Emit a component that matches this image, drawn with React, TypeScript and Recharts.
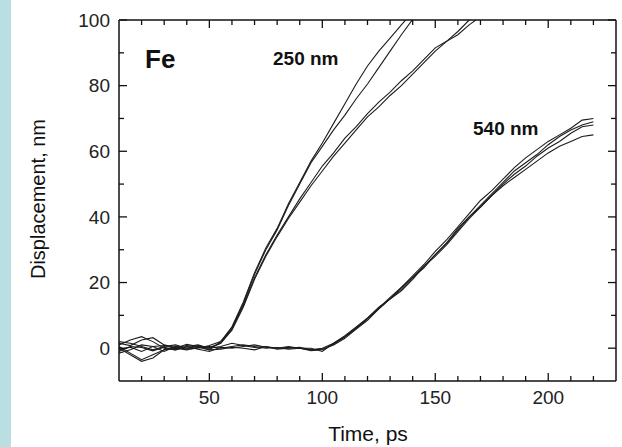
import { LineChart, Line, XAxis, YAxis } from "recharts";

// time axis (ps)
const TIME = [
  10, 15, 20, 25, 30, 35, 40, 45, 50, 55, 60, 65, 70, 75, 80, 85, 90, 95, 100, 105, 110,
  115, 120, 125, 130, 135, 140, 145, 150, 155, 160, 165, 170, 175, 180, 185, 190, 195,
  200, 205, 210, 215, 220,
];

// 250 nm film, displacement (nm); series stop once they leave the frame
const FE250_A1 = [
  1.5, 0.8, 2.5, 3.2, 1.0, 0.2, 0.8, 0.3, -0.5, 2.0, 6.5, 14, 23, 30.5, 36.5, 44, 50.5, 57,
  62.5, 68.5, 74.5, 80.5, 86, 90.5, 94.5, 98.5, 102.5,
];
const FE250_A2 = [
  -0.5, 0.3, -1.0, 0.5, 0.8, 0.0, 1.2, 0.5, 0.2, 1.5, 6, 13.5, 22.5, 30, 36, 43.5, 50,
  56.5, 61.5, 66.5, 71, 76, 80.5, 85.5, 90.5, 95.5, 100.2, 104,
];
const FE250_B1 = [
  0.5, -1.5, -3.5, -2.0, -0.5, 0.5, -0.3, 0.0, 0.8, 2.0, 6, 13, 21.5, 28.5, 34.5, 40,
  45.5, 50.5, 55.5, 59.5, 64, 67.5, 71.5, 75, 78, 81.5, 84.5, 88, 91.5, 93.5, 96.5, 100,
  102.5,
];
const FE250_B2 = [
  -1.0, 0.5, 0.2, -0.8, 0.3, -0.5, 0.5, 1.0, 0.0, 1.5, 5.5, 12.5, 21, 28, 34, 39.5, 44.5,
  49.5, 54, 58.5, 62.5, 66.5, 70.5, 73.5, 77, 80, 83.5, 87, 90.5, 93.5, 95.5, 98.5, 101,
  103,
];

// 540 nm film
const FE540_C1 = [
  2.0, 1.5, 0.5, -0.5, 0.5, 1.0, 0.0, 0.5, 0.0, 0.5, 1.5, 0.8, 0.2, 0.5, 0.0, 0.3, 0.0,
  -0.5, 0.0, 1.5, 3.5, 6.2, 9, 12.2, 15.5, 18.5, 22, 25.5, 29.5, 33, 37, 41, 45, 48, 51.5,
  55, 58, 60.5, 63, 65, 67, 69.5, 70,
];
const FE540_C2 = [
  0.0, -2.0, -4.0, -3.0, -0.5, 0.0, -0.5, 0.3, 0.5, 0.0, 0.5, 1.0, 0.5, 0.0, 0.2, -0.3,
  0.0, -0.8, -0.5, 1.2, 3.5, 6, 9, 12, 15, 18, 21.5, 25, 28.5, 32, 36.5, 40, 43.5, 47,
  50.5, 54, 56.5, 59, 62, 64.5, 66.5, 68, 69,
];
const FE540_C3 = [
  1.0, 2.5, 3.5, 2.0, 0.0, -0.5, 0.5, -0.3, -1.0, 0.3, 0.0, 0.5, 1.0, 0.3, 0.0, 0.5, 0.0,
  0.0, -1.0, 1.5, 3.8, 6.5, 9.2, 12.5, 15, 18.5, 21.5, 24.5, 28.5, 32, 36, 40, 43, 46.5,
  50, 53, 55.5, 58.5, 61, 63, 65.5, 67.5, 68,
];
const FE540_C4 = [
  -1.5, -0.5, 1.0, 0.5, -1.0, 0.5, 0.0, 0.8, -0.5, -0.3, 0.3, 0.0, -0.5, 0.5, -0.3, 0.0,
  0.3, -0.5, -0.3, 1, 3, 5.8, 8.5, 12, 15, 17.5, 21, 25, 28, 31.5, 35.5, 39.5, 43, 46.5,
  49.5, 52, 54.5, 57, 59.5, 61.5, 63, 64.5, 65,
];

const X_TICKS = [20, 30, 40, 50, 60, 70, 80, 90, 100, 110, 120, 130, 140, 150, 160, 170, 180, 190, 200, 210, 220];
const Y_TICKS = [0, 10, 20, 30, 40, 50, 60, 70, 80, 90, 100];

const SERIES: Record<string, number[]> = {
  a1: FE250_A1,
  a2: FE250_A2,
  b1: FE250_B1,
  b2: FE250_B2,
  c1: FE540_C1,
  c2: FE540_C2,
  c3: FE540_C3,
  c4: FE540_C4,
};

const data = TIME.map((t, i) => {
  const row: Record<string, number | null> = { t };
  for (const key of Object.keys(SERIES)) {
    const v = SERIES[key][i];
    row[key] = v === undefined ? null : v;
  }
  return row;
});

const FONT = '"Liberation Sans", Arial, sans-serif';
const INK = "#111";

function BottomTick({ x, y, payload }: any) {
  const major = payload.value % 50 === 0;
  return (
    <g>
      <line x1={x} y1={y} x2={x} y2={y - (major ? 8 : 5)} stroke={INK} strokeWidth={1.3} />
      {major && (
        <text x={x} y={y + 23} textAnchor="middle" fontSize={19} fontFamily={FONT} fill="#222">
          {payload.value}
        </text>
      )}
    </g>
  );
}

function TopTick({ x, y, payload }: any) {
  const major = payload.value % 50 === 0;
  return <line x1={x} y1={y} x2={x} y2={y + (major ? 8 : 5)} stroke={INK} strokeWidth={1.3} />;
}

function LeftTick({ x, y, payload }: any) {
  const major = payload.value % 20 === 0;
  return (
    <g>
      <line x1={x} y1={y} x2={x + (major ? 8 : 5)} y2={y} stroke={INK} strokeWidth={1.3} />
      {major && (
        <text x={x - 9} y={y} dy="0.36em" textAnchor="end" fontSize={19} fontFamily={FONT} fill="#222">
          {payload.value}
        </text>
      )}
    </g>
  );
}

function RightTick({ x, y, payload }: any) {
  const major = payload.value % 20 === 0;
  return <line x1={x} y1={y} x2={x - (major ? 8 : 5)} y2={y} stroke={INK} strokeWidth={1.3} />;
}

const note = (left: number, top: number, size: number, bold: boolean): React.CSSProperties => ({
  position: "absolute",
  left,
  top,
  fontSize: size,
  fontWeight: bold ? 700 : 400,
  fontFamily: FONT,
  color: "#111",
  lineHeight: 1,
  whiteSpace: "nowrap",
});

const axisCommon = {
  type: "number" as const,
  allowDataOverflow: true,
  interval: 0 as const,
  tickSize: 0,
  tickMargin: 0,
  tickLine: false,
  axisLine: { stroke: INK, strokeWidth: 1.5 },
};

export default function App() {
  return (
    <div style={{ position: "absolute", left: 0, top: 0, width: 622, height: 447, background: "#fff" }}>
      <div style={{ position: "absolute", left: 0, top: 0, width: 11, height: 447, background: "#b9dfe3" }} />
      <LineChart
        width={622}
        height={447}
        data={data}
        margin={{ top: 19, right: 5, bottom: 65, left: 118 }}
      >
        <XAxis {...axisCommon} dataKey="t" domain={[10, 230]} ticks={X_TICKS} height={1} tick={<BottomTick />} />
        <XAxis
          {...axisCommon}
          xAxisId="top"
          orientation="top"
          dataKey="t"
          domain={[10, 230]}
          ticks={X_TICKS}
          height={1}
          tick={<TopTick />}
        />
        <YAxis {...axisCommon} domain={[-10, 100]} ticks={Y_TICKS} width={1} tick={<LeftTick />} />
        <YAxis
          {...axisCommon}
          yAxisId="right"
          orientation="right"
          domain={[-10, 100]}
          ticks={Y_TICKS}
          width={1}
          tick={<RightTick />}
        />
        {Object.keys(SERIES).map((key) => (
          <Line
            key={key}
            dataKey={key}
            type="linear"
            stroke="#1c1c1c"
            strokeWidth={1.1}
            dot={false}
            activeDot={false}
            isAnimationActive={false}
          />
        ))}
      </LineChart>
      <div style={{ ...note(368, 423, 21, false), transform: "translateX(-50%)" }}>Time, ps</div>
      <div
        style={{
          ...note(38, 199, 20, false),
          transform: "translate(-50%, -50%) rotate(-90deg)",
        }}
      >
        Displacement, nm
      </div>
      <div style={note(145, 46, 26, true)}>Fe</div>
      <div style={note(273, 49, 19, true)}>250 nm</div>
      <div style={note(473, 119, 19, true)}>540 nm</div>
    </div>
  );
}
